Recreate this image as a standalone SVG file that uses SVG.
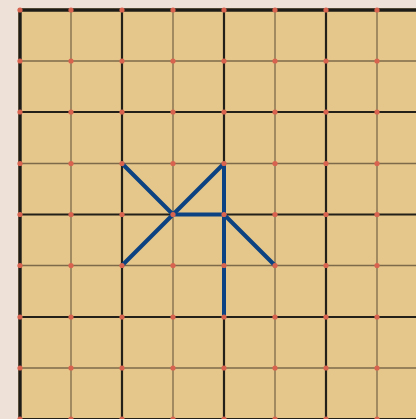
<svg xmlns="http://www.w3.org/2000/svg" width="416" height="419" viewBox="0 0 416 419">
<defs>
<style>
.thin{stroke:#7d6a4a;stroke-width:1.3;}
.thick{stroke:#222018;stroke-width:2.2;}
.border{stroke:#1e1c18;stroke-width:3.4;}
.dot{fill:#d86450;}
.fig{stroke:#0c4282;stroke-width:4;stroke-linecap:round;fill:none;}
</style>
</defs>
<rect x="0" y="0" width="416" height="419" fill="#eee2d8"/>
<rect id="board" x="18" y="8" width="398" height="411" fill="#e5c78b"/>
<g id="grid">
<line class="thin" x1="71" y1="10" x2="71" y2="419"/>
<line class="thin" x1="173" y1="10" x2="173" y2="419"/>
<line class="thin" x1="275" y1="10" x2="275" y2="419"/>
<line class="thin" x1="377" y1="10" x2="377" y2="419"/>
<line class="thin" x1="20" y1="61" x2="416" y2="61"/>
<line class="thin" x1="20" y1="163.5" x2="416" y2="163.5"/>
<line class="thin" x1="20" y1="265.5" x2="416" y2="265.5"/>
<line class="thin" x1="20" y1="368" x2="416" y2="368"/>
<line class="thick" x1="122" y1="10" x2="122" y2="419"/>
<line class="thick" x1="224" y1="10" x2="224" y2="419"/>
<line class="thick" x1="326" y1="10" x2="326" y2="419"/>
<line class="thick" x1="20" y1="112" x2="416" y2="112"/>
<line class="thick" x1="20" y1="214.5" x2="416" y2="214.5"/>
<line class="thick" x1="20" y1="317" x2="416" y2="317"/>
<line class="thick" x1="20" y1="419" x2="416" y2="419"/>
<line class="border" x1="20" y1="10" x2="416" y2="10"/>
<line class="border" x1="20" y1="8.3" x2="20" y2="419"/>
</g>
<g id="connectors">
<line class="fig" x1="122" y1="163.5" x2="173" y2="214.5"/>
<line class="fig" x1="173" y1="214.5" x2="122" y2="265.5"/>
<line class="fig" x1="173" y1="214.5" x2="224" y2="163.5"/>
<line class="fig" x1="224" y1="163.5" x2="224" y2="317"/>
<line class="fig" x1="173" y1="214.5" x2="224" y2="214.5"/>
<line class="fig" x1="224" y1="214.5" x2="275" y2="265.5"/>
</g>
<g id="points">
<g transform="translate(0,10)"><circle class="dot" cx="20" cy="0" r="2.6"/><circle class="dot" cx="71" cy="0" r="2.6"/><circle class="dot" cx="122" cy="0" r="2.6"/><circle class="dot" cx="173" cy="0" r="2.6"/><circle class="dot" cx="224" cy="0" r="2.6"/><circle class="dot" cx="275" cy="0" r="2.6"/><circle class="dot" cx="326" cy="0" r="2.6"/><circle class="dot" cx="377" cy="0" r="2.6"/></g>
<g transform="translate(0,61)"><circle class="dot" cx="20" cy="0" r="2.6"/><circle class="dot" cx="71" cy="0" r="2.6"/><circle class="dot" cx="122" cy="0" r="2.6"/><circle class="dot" cx="173" cy="0" r="2.6"/><circle class="dot" cx="224" cy="0" r="2.6"/><circle class="dot" cx="275" cy="0" r="2.6"/><circle class="dot" cx="326" cy="0" r="2.6"/><circle class="dot" cx="377" cy="0" r="2.6"/></g>
<g transform="translate(0,112)"><circle class="dot" cx="20" cy="0" r="2.6"/><circle class="dot" cx="71" cy="0" r="2.6"/><circle class="dot" cx="122" cy="0" r="2.6"/><circle class="dot" cx="173" cy="0" r="2.6"/><circle class="dot" cx="224" cy="0" r="2.6"/><circle class="dot" cx="275" cy="0" r="2.6"/><circle class="dot" cx="326" cy="0" r="2.6"/><circle class="dot" cx="377" cy="0" r="2.6"/></g>
<g transform="translate(0,163.5)"><circle class="dot" cx="20" cy="0" r="2.6"/><circle class="dot" cx="71" cy="0" r="2.6"/><circle class="dot" cx="122" cy="0" r="2.6"/><circle class="dot" cx="173" cy="0" r="2.6"/><circle class="dot" cx="224" cy="0" r="2.6"/><circle class="dot" cx="275" cy="0" r="2.6"/><circle class="dot" cx="326" cy="0" r="2.6"/><circle class="dot" cx="377" cy="0" r="2.6"/></g>
<g transform="translate(0,214.5)"><circle class="dot" cx="20" cy="0" r="2.6"/><circle class="dot" cx="71" cy="0" r="2.6"/><circle class="dot" cx="122" cy="0" r="2.6"/><circle class="dot" cx="173" cy="0" r="2.6"/><circle class="dot" cx="224" cy="0" r="2.6"/><circle class="dot" cx="275" cy="0" r="2.6"/><circle class="dot" cx="326" cy="0" r="2.6"/><circle class="dot" cx="377" cy="0" r="2.6"/></g>
<g transform="translate(0,265.5)"><circle class="dot" cx="20" cy="0" r="2.6"/><circle class="dot" cx="71" cy="0" r="2.6"/><circle class="dot" cx="122" cy="0" r="2.6"/><circle class="dot" cx="173" cy="0" r="2.6"/><circle class="dot" cx="224" cy="0" r="2.6"/><circle class="dot" cx="275" cy="0" r="2.6"/><circle class="dot" cx="326" cy="0" r="2.6"/><circle class="dot" cx="377" cy="0" r="2.6"/></g>
<g transform="translate(0,317)"><circle class="dot" cx="20" cy="0" r="2.6"/><circle class="dot" cx="71" cy="0" r="2.6"/><circle class="dot" cx="122" cy="0" r="2.6"/><circle class="dot" cx="173" cy="0" r="2.6"/><circle class="dot" cx="224" cy="0" r="2.6"/><circle class="dot" cx="275" cy="0" r="2.6"/><circle class="dot" cx="326" cy="0" r="2.6"/><circle class="dot" cx="377" cy="0" r="2.6"/></g>
<g transform="translate(0,368)"><circle class="dot" cx="20" cy="0" r="2.6"/><circle class="dot" cx="71" cy="0" r="2.6"/><circle class="dot" cx="122" cy="0" r="2.6"/><circle class="dot" cx="173" cy="0" r="2.6"/><circle class="dot" cx="224" cy="0" r="2.6"/><circle class="dot" cx="275" cy="0" r="2.6"/><circle class="dot" cx="326" cy="0" r="2.6"/><circle class="dot" cx="377" cy="0" r="2.6"/></g>
<g transform="translate(0,419)"><circle class="dot" cx="20" cy="0" r="2.6"/><circle class="dot" cx="71" cy="0" r="2.6"/><circle class="dot" cx="122" cy="0" r="2.6"/><circle class="dot" cx="173" cy="0" r="2.6"/><circle class="dot" cx="224" cy="0" r="2.6"/><circle class="dot" cx="275" cy="0" r="2.6"/><circle class="dot" cx="326" cy="0" r="2.6"/><circle class="dot" cx="377" cy="0" r="2.6"/></g>
</g>
</svg>
